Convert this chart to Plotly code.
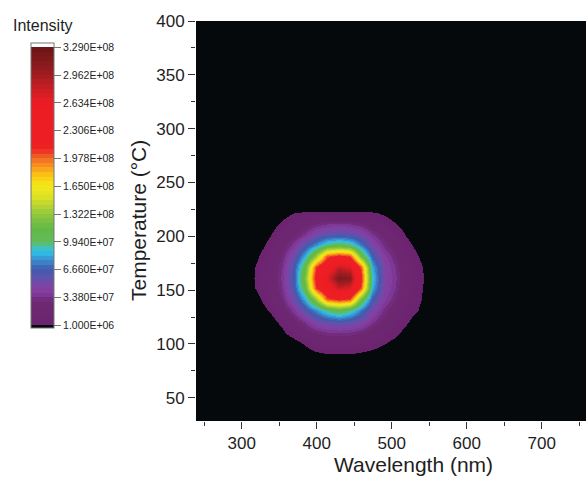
import plotly.graph_objects as go

# Emission map: wavelength (nm) x temperature (deg C), intensity in units of 1e6 counts
wavelength_nm = [309, 324, 339, 354, 369, 384, 399, 414, 429, 444, 459, 474, 489, 504, 519, 534, 549]
temperature_c = [81.5, 91.5, 101.5, 111.5, 121.5, 131.5, 141.5, 151.5, 161.5,
                 171.5, 181.5, 191.5, 201.5, 211.5, 221.5, 231.5]

intensity_1e6 = [
    [-30, -30, -28, -25, -22, -19, -16, -14, -13, -13, -14, -16, -19, -22, -25, -30, -30],
    [-30, -25, -20, -15, -10, -6, -1, 2, 2, 2, 0, -2, -6, -10, -16, -22, -30],
    [-25, -20, -15, -9, -4, 4, 13, 17, 17, 17, 13, 8, 3, -3, -10, -18, -25],
    [-22, -16, -10, -2, 10, 21, 29, 34, 34, 34, 29, 21, 12, 6, -4, -11, -19],
    [-18, -12, -5, 6, 24, 36, 51, 59, 64, 59, 51, 36, 24, 12, 4, -6, -15],
    [-14, -6, 4, 21, 38, 60, 78, 99, 112, 99, 74, 50, 32, 21, 8, 2, -9],
    [-10, 0, 13, 29, 53, 84, 132, 201, 214, 205, 118, 66, 42, 29, 13, 5, -6],
    [-5, 6, 17, 34, 63, 112, 207, 245, 280, 270, 201, 85, 47, 34, 17, 6, -5],
    [-4, 7, 18, 36, 66, 124, 220, 268, 315, 308, 214, 92, 48, 36, 18, 7, -4],
    [-5, 6, 17, 34, 63, 112, 207, 245, 280, 270, 201, 85, 47, 34, 17, 6, -5],
    [-8, 2, 13, 29, 53, 84, 132, 201, 214, 205, 118, 66, 42, 29, 13, 2, -8],
    [-11, -3, 6, 21, 38, 60, 78, 99, 108, 99, 74, 50, 32, 21, 6, -3, -11],
    [-15, -6, 1, 12, 24, 36, 51, 59, 62, 59, 51, 36, 24, 12, 0, -6, -15],
    [-19, -11, -4, 3, 12, 21, 29, 34, 36, 34, 29, 21, 12, 2, -5, -11, -19],
    [-25, -18, -10, -4, 1, 5, 6, 6, 6, 6, 6, 4, -2, -8, -12, -18, -25],
    [-25, -25, -25, -25, -25, -25, -25, -25, -25, -25, -25, -25, -25, -25, -25, -25, -25],
]

cbar_levels = [1.000e6, 3.380e7, 6.660e7, 9.940e7, 1.322e8, 1.650e8,
               1.978e8, 2.306e8, 2.634e8, 2.962e8, 3.290e8]
cbar_labels = ["1.000E+06", "3.380E+07", "6.660E+07", "9.940E+07", "1.322E+08", "1.650E+08",
               "1.978E+08", "2.306E+08", "2.634E+08", "2.962E+08", "3.290E+08"]

x_ticks = [300, 400, 500, 600, 700]
x_minor = [250, 350, 450, 550, 650, 750]
y_ticks = [50, 100, 150, 200, 250, 300, 350, 400]
y_minor = [75, 125, 175, 225, 275, 325, 375]

# Rainbow palette anchors (intensity in 1e6 counts -> colour)
palette_anchors = [
    (1.0, "#6c2470"), (30.0, "#6e2872"), (33.8, "#7a3592"), (44.0, "#8540a3"),
    (55.0, "#6450ac"), (66.6, "#3d5cad"), (78.0, "#3b8fd0"), (88.0, "#30c3ea"),
    (99.4, "#62bb5a"), (115.0, "#63b946"), (132.2, "#93c83d"), (150.0, "#d6df27"),
    (165.0, "#f4e918"), (177.0, "#fcc814"), (188.0, "#f7941d"), (197.8, "#f26a24"),
    (210.0, "#ed2024"), (263.4, "#ed1c24"), (275.0, "#d41e24"), (296.2, "#a01c20"),
    (313.0, "#811a1c"), (329.0, "#6b1416"),
]
STEPS_PER_LEVEL = 6

BG = "#05090b"
z = [[v * 1e6 for v in row] for row in intensity_1e6]

# below-range (black) and above-range (white) caps around the level span
zmin = cbar_levels[0] - 3.5e6
zmax = cbar_levels[-1] + 4.7e6


def frac(v):
    return (v - zmin) / (zmax - zmin)


def hex_rgb(h):
    return tuple(int(h[i:i + 2], 16) for i in (1, 3, 5))


def palette_at(v):
    for (v0, c0), (v1, c1) in zip(palette_anchors, palette_anchors[1:]):
        if v <= v1:
            t = (v - v0) / (v1 - v0)
            a, b = hex_rgb(c0), hex_rgb(c1)
            r, g, bl = (round(a[i] + (b[i] - a[i]) * t) for i in range(3))
            return f"rgb({r},{g},{bl})"
    return palette_anchors[-1][1]


lo, hi = cbar_levels[0], cbar_levels[-1]
n = STEPS_PER_LEVEL * (len(cbar_levels) - 1)
colorscale = [[0.0, BG], [frac(lo), BG]]
for i in range(n):
    a = lo + (hi - lo) * i / n
    b = lo + (hi - lo) * (i + 1) / n
    c = palette_at((a + b) / 2 / 1e6)
    colorscale += [[frac(a), c], [frac(b), c]]
colorscale += [[frac(hi), "#ffffff"], [1.0, "#ffffff"]]

FONT = "Liberation Sans, Arial, sans-serif"
TXT = "#1e1e1e"

fig = go.Figure(
    go.Heatmap(
        x=wavelength_nm,
        y=temperature_c,
        z=z,
        zsmooth="best",
        colorscale=colorscale,
        zmin=zmin,
        zmax=zmax,
        hoverinfo="skip",
        colorbar=dict(
            tickmode="array",
            tickvals=cbar_levels,
            ticktext=cbar_labels,
            ticks="outside",
            ticklen=7,
            tickwidth=1,
            tickcolor="#777777",
            tickfont=dict(size=10.5, color=TXT, family=FONT),
            thickness=23,
            thicknessmode="pixels",
            len=285,
            lenmode="pixels",
            x=-0.423,
            xanchor="left",
            y=0.588,
            yanchor="middle",
            xpad=0,
            ypad=0,
            outlinecolor="#777777",
            outlinewidth=1,
        ),
    )
)

# pixel-to-paper helpers for the 390 x 400 plot area
PL, PR, PT, PB = 196, 586, 20.7, 421.0


def px_x(p):
    return (p - PL) / (PR - PL)


def px_y(p):
    return (PB - p) / (PB - PT)


axis_common = dict(
    ticks="outside",
    ticklen=7,
    tickwidth=1.3,
    tickcolor="#333333",
    tickfont=dict(size=17, color=TXT, family=FONT),
    showgrid=False,
    zeroline=False,
    showline=False,
)

fig.update_layout(
    width=586,
    height=484,
    margin=dict(l=PL, r=586 - PR, t=PT, b=484 - PB),
    paper_bgcolor="white",
    plot_bgcolor=BG,
    font=dict(family=FONT, color=TXT),
    xaxis=dict(
        range=[239, 759],
        tickmode="array",
        tickvals=x_ticks,
        minor=dict(tickmode="array", tickvals=x_minor, ticks="outside", ticklen=4,
                   tickwidth=1.3, tickcolor="#333333"),
        **axis_common,
    ),
    yaxis=dict(
        range=[28.4, 400],
        tickmode="array",
        tickvals=y_ticks,
        minor=dict(tickmode="array", tickvals=y_minor, ticks="outside", ticklen=4,
                   tickwidth=1.3, tickcolor="#333333"),
        **axis_common,
    ),
    annotations=[
        dict(text="Wavelength (nm)", xref="paper", yref="paper",
             x=px_x(413), y=px_y(465), xanchor="center", yanchor="middle",
             showarrow=False, font=dict(size=21, color=TXT, family=FONT)),
        dict(text="Temperature (°C)", xref="paper", yref="paper",
             x=px_x(138), y=0.5, xanchor="center", yanchor="middle", textangle=-90,
             showarrow=False, font=dict(size=21, color=TXT, family=FONT)),
        dict(text="Intensity", xref="paper", yref="paper",
             x=px_x(43), y=px_y(25), xanchor="center", yanchor="middle",
             showarrow=False, font=dict(size=16, color=TXT, family=FONT)),
    ],
)

fig.write_html("out.html")
